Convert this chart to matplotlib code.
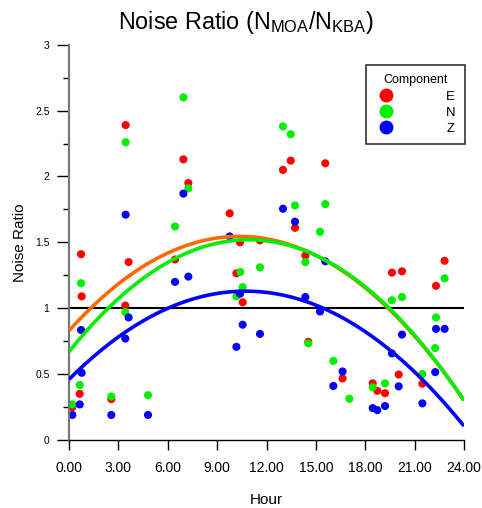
import numpy as np
import matplotlib
matplotlib.use("Agg")
import matplotlib.pyplot as plt
from matplotlib.ticker import MultipleLocator, FormatStrFormatter
from matplotlib.lines import Line2D

plt.rcParams['font.family'] = ['Liberation Sans', 'DejaVu Sans']
plt.rcParams['mathtext.default'] = 'regular'

# --- data (hour, ratio) ---
e_hour = [0.2, 0.65, 0.73, 0.77, 2.57, 3.42, 3.44, 3.62, 6.44, 6.95, 7.25, 9.76,
          10.17, 10.39, 10.55, 11.6, 13.0, 13.47, 13.73, 14.36, 14.54, 15.57,
          16.62, 18.45, 18.73, 19.2, 19.62, 20.03, 20.23, 21.47, 22.3, 22.82]
e_ratio = [0.25, 0.35, 1.41, 1.09, 0.31, 1.02, 2.39, 1.35, 1.37, 2.13, 1.95, 1.72,
           1.265, 1.50, 1.045, 1.515, 2.05, 2.12, 1.61, 1.40, 0.745, 2.10,
           0.467, 0.43, 0.373, 0.355, 1.27, 0.497, 1.28, 0.427, 1.17, 1.36]

n_hour = [0.2, 0.65, 0.73, 2.57, 3.42, 3.44, 4.8, 6.44, 6.95, 7.25, 10.17, 10.41,
          10.55, 11.6, 13.0, 13.47, 13.73, 14.36, 14.54, 15.25, 15.57, 16.06,
          17.03, 18.45, 19.2, 19.62, 20.23, 21.47, 22.25, 22.3, 22.82]
n_ratio = [0.27, 0.417, 1.19, 0.33, 0.97, 2.26, 0.34, 1.62, 2.60, 1.91, 1.09, 1.275,
           1.16, 1.31, 2.38, 2.32, 1.78, 1.35, 0.733, 1.58, 1.79, 0.60,
           0.313, 0.40, 0.43, 1.06, 1.085, 0.50, 0.697, 0.93, 1.227]

z_hour = [0.2, 0.65, 0.73, 0.77, 2.57, 3.42, 3.44, 3.62, 4.8, 6.44, 6.95, 7.25,
          9.76, 10.17, 10.39, 10.55, 11.6, 13.0, 13.73, 14.36, 15.25, 15.57,
          16.06, 16.62, 18.45, 18.73, 19.2, 19.62, 20.03, 20.23, 21.47, 22.25,
          22.3, 22.82]
z_ratio = [0.19, 0.27, 0.835, 0.51, 0.19, 0.77, 1.71, 0.93, 0.19, 1.2, 1.87, 1.24,
           1.545, 0.707, 1.11, 0.875, 0.805, 1.755, 1.657, 1.085, 0.975, 1.356,
           0.41, 0.52, 0.242, 0.227, 0.258, 0.657, 0.407, 0.80, 0.278, 0.515,
           0.843, 0.843]

# quadratic trend coefficients (a + b*h + c*h^2)
e_fit = [0.83, 0.1382, -0.006676]
n_fit = [0.67, 0.1557, -0.00713]
z_fit = [0.46, 0.1248, -0.005816]

components = ['E', 'N', 'Z']
point_colors = ['#ff0000', '#00ee00', '#0000ff']
curve_colors = ['#ff6a00', '#00ee00', '#0000ff']

fig = plt.figure(figsize=(4.82, 5.08), dpi=100)
ax = fig.add_axes([0.1432, 0.1339, 0.8195, 0.7781])

ax.axhline(1.0, color='black', lw=1.5, zorder=1)

series = [(e_hour, e_ratio), (n_hour, n_ratio), (z_hour, z_ratio)]
for (h, r), col in zip(series, point_colors):
    ax.scatter(h, r, s=34, color=col, edgecolors='none', zorder=2)

hh = np.linspace(0, 24, 200)
for coef, col in zip([e_fit, n_fit, z_fit], curve_colors):
    ax.plot(hh, np.polynomial.polynomial.polyval(hh, coef), color=col, lw=2.6,
            zorder=3, solid_capstyle='butt')

ax.set_xlim(0, 24)
ax.set_ylim(0, 3)
ax.xaxis.set_major_locator(MultipleLocator(3))
ax.xaxis.set_major_formatter(FormatStrFormatter('%.2f'))
ax.yaxis.set_major_locator(MultipleLocator(0.5))
ax.yaxis.set_minor_locator(MultipleLocator(0.25))
ax.yaxis.set_major_formatter(FormatStrFormatter('%g'))

for s in ['top', 'right']:
    ax.spines[s].set_visible(False)
ax.spines['left'].set_color('#777777')
ax.spines['left'].set_linewidth(1.6)
ax.spines['bottom'].set_linewidth(1.0)

ax.tick_params(axis='x', direction='out', length=7, width=1, pad=8,
               labelsize=10, colors='black')
ax.tick_params(axis='y', which='major', direction='out', length=9, width=1,
               pad=5, labelsize=7.5)
ax.tick_params(axis='y', which='minor', direction='out', length=4, width=1)

ax.set_xlabel('Hour', fontsize=11, labelpad=13)
ax.set_ylabel('Noise Ratio', fontsize=11, labelpad=5.5)

fig.text(0.51, 0.955, 'Noise Ratio (N$_{MOA}$/N$_{KBA}$)', ha='center',
         va='center', fontsize=16.8)

handles = [Line2D([], [], ls='none', marker='o', markersize=10, color=c,
                  markeredgecolor='none') for c in point_colors]
leg = ax.legend(handles, components, title='Component', loc='upper right',
                bbox_to_anchor=(1.003, 0.948), frameon=True, fancybox=False,
                fontsize=9.5, title_fontsize=9, handletextpad=3.8,
                labelspacing=0.3, borderpad=0.7, handlelength=1.6,
                borderaxespad=0, markerfirst=True)
leg.get_frame().set_edgecolor('black')
leg.get_frame().set_linewidth(1.2)

fig.savefig('out.png', dpi=100)
